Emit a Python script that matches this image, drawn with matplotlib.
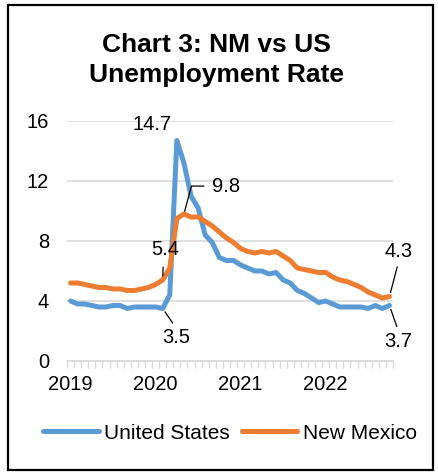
import numpy as np
import matplotlib
matplotlib.use("Agg")
import matplotlib.pyplot as plt
from matplotlib.patches import Rectangle

plt.rcParams['font.family'] = ['Liberation Sans', 'DejaVu Sans']

years = ["2019", "2020", "2021", "2022"]
us = [4.0, 3.8, 3.8, 3.7, 3.6, 3.6, 3.7, 3.7, 3.5, 3.6, 3.6, 3.6,
      3.6, 3.5, 4.4, 14.7, 13.2, 11.0, 10.2, 8.4, 7.9, 6.9, 6.7, 6.7,
      6.4, 6.2, 6.0, 6.0, 5.8, 5.9, 5.4, 5.2, 4.7, 4.5, 4.2, 3.9,
      4.0, 3.8, 3.6, 3.6, 3.6, 3.6, 3.5, 3.7, 3.5, 3.7]
nm = [5.2, 5.2, 5.1, 5.0, 4.9, 4.9, 4.8, 4.8, 4.7, 4.7, 4.8, 4.9,
      5.1, 5.4, 6.2, 9.5, 9.8, 9.6, 9.6, 9.3, 9.0, 8.6, 8.2, 7.9,
      7.5, 7.3, 7.2, 7.3, 7.2, 7.3, 7.0, 6.7, 6.2, 6.1, 6.0, 5.9,
      5.9, 5.6, 5.4, 5.3, 5.1, 4.9, 4.6, 4.4, 4.2, 4.3]

blue = '#5B9BD5'
orange = '#ED7D31'
grid = '#D9D9D9'

fig = plt.figure(figsize=(4.38, 4.73), dpi=100)
ax = fig.add_axes([67/438, 1-361/473, 326/438, 240/473])

x = np.arange(len(us))
ax.plot(x, us, color=blue, lw=3.6, solid_capstyle='round', solid_joinstyle='round', label='United States', zorder=3)
ax.plot(x, nm, color=orange, lw=3.6, solid_capstyle='round', solid_joinstyle='round', label='New Mexico', zorder=4)

ax.set_xlim(-0.5, len(us) - 0.5)
ax.set_ylim(0, 16)
ax.set_yticks([0, 4, 8, 12, 16])
ax.yaxis.grid(True, color=grid, lw=1.2)
ax.set_axisbelow(True)
for s in ['top', 'right', 'left']:
    ax.spines[s].set_visible(False)
ax.spines['bottom'].set_color(grid)
ax.spines['bottom'].set_linewidth(1.2)
ax.tick_params(axis='y', length=0, pad=13, labelsize=14.5)
ax.set_xticks([0, 12, 24, 36])
ax.set_xticklabels(years)
ax.tick_params(axis='x', which='major', length=0, pad=10, labelsize=14.5)
ax.set_xticks(np.arange(-0.5, len(us)), minor=True)
ax.tick_params(axis='x', which='minor', length=5, width=1, color=grid, direction='out')

fs = 14.5
ann = dict(arrowstyle='-', color='black', lw=0.9, shrinkA=2, shrinkB=3)
i_peak = int(np.argmax(us))
ax.annotate(f"{us[i_peak]}", xy=(i_peak, us[i_peak]), xytext=(11.5, 15.75),
            ha='center', va='center', fontsize=fs, annotation_clip=False, zorder=6)
j_peak = int(np.argmax(nm))
ax.annotate(f"{nm[j_peak]}", xy=(j_peak, nm[j_peak]), xytext=(20.0, 11.66),
            ha='left', va='center', fontsize=fs, annotation_clip=False, zorder=6,
            arrowprops=dict(arrowstyle='-', color='black', lw=0.9, shrinkA=4, shrinkB=2,
                            relpos=(0, 0.5), connectionstyle='angle,angleA=0,angleB=75,rad=0'))
ax.annotate(f"{nm[13]}", xy=(13, nm[13]), xytext=(13.3, 7.45),
            ha='center', va='center', fontsize=fs, annotation_clip=False, zorder=6,
            arrowprops=dict(ann, relpos=(0.45, 0), shrinkA=4))
ax.annotate(f"{us[13]}", xy=(13, us[13]), xytext=(14.9, 1.56),
            ha='center', va='center', fontsize=fs, annotation_clip=False, zorder=6,
            arrowprops=dict(ann, relpos=(0.5, 1)))
n = len(us) - 1
ax.annotate(f"{nm[n]}", xy=(n, nm[n]), xytext=(46.3, 7.28),
            ha='center', va='center', fontsize=fs, annotation_clip=False, zorder=6,
            arrowprops=dict(ann, relpos=(0.5, 0)))
ax.annotate(f"{us[n]}", xy=(n, us[n]), xytext=(46.3, 1.30),
            ha='center', va='center', fontsize=fs, annotation_clip=False, zorder=6,
            arrowprops=dict(ann, relpos=(0.5, 1)))

fig.text(0.495, 1-60/473, "Chart 3: NM vs US\nUnemployment Rate", ha='center', va='center',
         fontsize=19, fontweight='bold', linespacing=1.28)

leg = fig.legend(loc='center', bbox_to_anchor=(230/438, 1-433/473), ncol=2, frameon=False,
                 fontsize=15, handlelength=2.65, handletextpad=0.25, columnspacing=0.6)
for h in leg.get_lines():
    h.set_linewidth(3.6)

fig.patches.append(Rectangle((8/438, 1-470/473), 425/438, 465/473, transform=fig.transFigure,
                             fill=False, edgecolor='black', lw=1.6))

fig.savefig('out.png', dpi=100)
